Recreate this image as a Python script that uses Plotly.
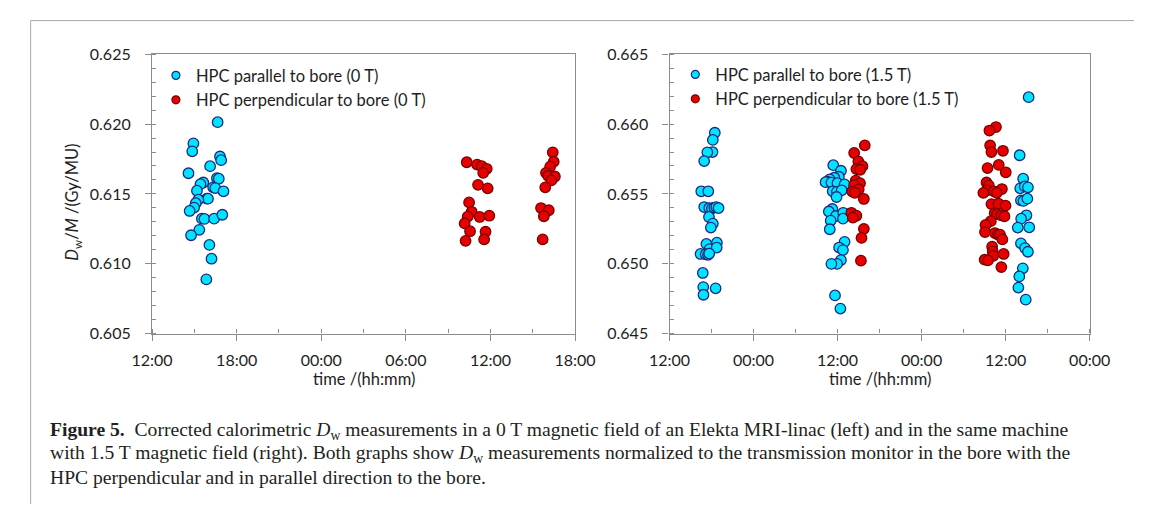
import plotly.graph_objects as go

W, H = 1155, 513

# ---------------- data ----------------
# Left panel, 0 T
left_par_day = "2017-01-10"
left_par_time = ["16:39", "14:56", "14:51", "16:49", "16:54", "16:07", "14:35", "16:36", "16:44", "15:38",
                 "15:26", "16:20", "16:29", "15:11", "17:04", "15:53", "15:58", "15:17", "15:06", "14:59",
                 "14:40", "15:32", "15:43", "16:24", "16:59", "15:21", "14:46", "16:04", "16:13", "15:51"]
left_par_val = [0.62014, 0.61862, 0.61805, 0.61768, 0.61742, 0.61699, 0.61648, 0.61613, 0.61609, 0.61582,
                0.61570, 0.61547, 0.61542, 0.61523, 0.61519, 0.61466, 0.61466, 0.61459, 0.61434, 0.61402,
                0.61378, 0.61323, 0.61321, 0.61323, 0.61351, 0.61243, 0.61204, 0.61135, 0.61036, 0.60888]

left_perp_day = "2017-01-11"
left_perp_time = ["10:19", "11:03", "11:23", "11:44", "11:29", "11:07", "11:48", "10:29", "10:40", "10:23",
                  "10:10", "11:14", "11:55", "10:33", "11:39", "10:14", "11:33",
                  "16:25", "16:29", "16:14", "15:56", "16:05", "16:34", "16:19", "15:53", "15:35",
                  "16:08", "15:47", "15:42"]
left_perp_val = [0.61727, 0.61710, 0.61699, 0.61680, 0.61651, 0.61565, 0.61540, 0.61439, 0.61372, 0.61337,
                 0.61289, 0.61335, 0.61344, 0.61233, 0.61229, 0.61164, 0.61174,
                 0.61798, 0.61731, 0.61696, 0.61651, 0.61630, 0.61625, 0.61597, 0.61547, 0.61399,
                 0.61383, 0.61340, 0.61174]

# Right panel, 1.5 T
right_par1_day = "2017-02-01"
right_par1_time = ["18:28", "18:11", "18:08", "17:24", "16:57", "16:32", "17:32", "16:57", "17:40", "18:03",
                   "18:24", "18:41", "19:00", "17:38", "18:11", "17:54", "17:16", "18:46", "17:43", "18:44",
                   "16:26", "17:10", "17:30", "17:40", "16:45", "16:49", "18:35", "16:51"]
right_par1_val = [0.65938, 0.65887, 0.65800, 0.65798, 0.65735, 0.65519, 0.65519, 0.65406, 0.65399, 0.65397,
                  0.65402, 0.65406, 0.65399, 0.65335, 0.65287, 0.65259, 0.65142, 0.65151, 0.65105, 0.65116,
                  0.65070, 0.65068, 0.65064, 0.65073, 0.64934, 0.64833, 0.64824, 0.64778]

right_par2_day = "2017-02-02"
right_par2_time = ["11:23", "12:29", "12:11", "11:32", "10:53", "10:32", "10:17", "11:07", "11:59", "13:00",
                   "11:18", "11:54", "12:35", "11:51", "11:15", "10:45", "11:46", "12:48", "12:46", "11:01",
                   "10:53", "13:00", "12:13", "12:46", "12:29", "11:56", "11:07", "11:38", "12:24"]
right_par2_val = [0.65706, 0.65666, 0.65623, 0.65616, 0.65604, 0.65588, 0.65584, 0.65581, 0.65577, 0.65568,
                  0.65519, 0.65515, 0.65526, 0.65478, 0.65392, 0.65374, 0.65342, 0.65365, 0.65323, 0.65309,
                  0.65247, 0.65157, 0.65116, 0.65098, 0.65026, 0.64999, 0.64999, 0.64773, 0.64679]

right_par3_day = "2017-02-03"
right_par3_time = ["15:17", "14:00", "14:30", "14:05", "14:44", "15:11", "14:11", "14:33", "15:06", "14:58",
                   "14:13", "13:44", "15:22", "14:11", "14:46", "15:11", "14:27", "13:57", "13:49", "14:52"]
right_par3_val = [0.66193, 0.65777, 0.65609, 0.65540, 0.65554, 0.65547, 0.65454, 0.65450, 0.65466, 0.65347,
                  0.65323, 0.65259, 0.65261, 0.65146, 0.65112, 0.65086, 0.64967, 0.64909, 0.64829, 0.64743]

right_perp2_day = "2017-02-02"
right_perp2_time = ["15:53", "14:22", "14:58", "15:33", "14:41", "15:14", "14:35", "15:12", "14:22", "15:01",
                    "14:06", "14:28", "15:45", "13:58", "14:41", "14:11", "15:45", "15:25", "15:20"]
right_perp2_val = [0.65848, 0.65793, 0.65733, 0.65699, 0.65678, 0.65673, 0.65595, 0.65577, 0.65563, 0.65533,
                   0.65517, 0.65508, 0.65464, 0.65365, 0.65344, 0.65330, 0.65250, 0.65185, 0.65022]

right_perp3_day = "2017-02-03"
right_perp3_time = ["10:37", "09:41", "09:47", "09:58", "11:37", "11:01", "09:25", "12:01", "09:16", "09:36",
                    "11:28", "09:20", "08:49", "10:20", "10:44", "09:58", "10:59", "11:59", "10:26", "10:47",
                    "11:23", "11:50", "09:53", "09:08", "09:03", "10:28", "10:53", "11:12", "11:32", "10:04",
                    "10:09", "10:14", "11:43", "09:00", "09:28", "11:23"]
right_perp3_val = [0.65979, 0.65954, 0.65848, 0.65800, 0.65809, 0.65708, 0.65685, 0.65655, 0.65582, 0.65561,
                   0.65535, 0.65526, 0.65508, 0.65519, 0.65508, 0.65427, 0.65430, 0.65416, 0.65363, 0.65356,
                   0.65347, 0.65340, 0.65305, 0.65278, 0.65227, 0.65220, 0.65209, 0.65209, 0.65174, 0.65123,
                   0.65088, 0.65057, 0.65070, 0.65029, 0.65024, 0.64976]

left_xrange = ["2017-01-10 12:00", "2017-01-11 18:00"]
right_xrange = ["2017-02-01 12:00", "2017-02-04 00:00"]
left_yrange = [0.605, 0.625]
right_yrange = [0.645, 0.665]
y_dtick = 0.005

legend_left = ["HPC parallel to bore (0 T)", "HPC perpendicular to bore (0 T)"]
legend_right = ["HPC parallel to bore (1.5 T)", "HPC perpendicular to bore (1.5 T)"]

caption_lines = [
    "<b>Figure 5.</b>  Corrected calorimetric <i>D</i><sub>w</sub> measurements in a 0 T magnetic field "
    "of an Elekta MRI-linac (left) and in the same machine",
    "with 1.5 T magnetic field (right). Both graphs show <i>D</i><sub>w</sub> measurements normalized to the "
    "transmission monitor in the bore with the",
    "HPC perpendicular and in parallel direction to the bore.",
]


def stamps(day, times):
    return [f"{day} {t}" for t in times]


# ---------------- styles ----------------
BLUE_FILL, BLUE_LINE = "#00E5FF", "#1B2A80"
RED_FILL, RED_LINE = "#E80000", "#7A0000"
FRAME = "#8C8C8C"
TXT = "#1E1E1E"
FONT = "Lato"
MS = 10.5


def px_x(p):
    return p / W


def px_y(p):
    return 1 - p / H


fig = go.Figure()

blue_marker = dict(color=BLUE_FILL, size=MS, line=dict(color=BLUE_LINE, width=1.3))
red_marker = dict(color=RED_FILL, size=MS, line=dict(color=RED_LINE, width=1.3))
blue_leg = dict(color=BLUE_FILL, size=8, line=dict(color=BLUE_LINE, width=1.2))
red_leg = dict(color=RED_FILL, size=8, line=dict(color=RED_LINE, width=1.2))

fig.add_trace(go.Scatter(x=stamps(left_par_day, left_par_time), y=left_par_val, mode="markers",
                         marker=blue_marker, name=legend_left[0], xaxis="x", yaxis="y", showlegend=False))
fig.add_trace(go.Scatter(x=stamps(left_perp_day, left_perp_time), y=left_perp_val, mode="markers",
                         marker=red_marker, name=legend_left[1], xaxis="x", yaxis="y", showlegend=False))

rp_x = (stamps(right_par1_day, right_par1_time) + stamps(right_par2_day, right_par2_time)
        + stamps(right_par3_day, right_par3_time))
rp_y = right_par1_val + right_par2_val + right_par3_val
rq_x = stamps(right_perp2_day, right_perp2_time) + stamps(right_perp3_day, right_perp3_time)
rq_y = right_perp2_val + right_perp3_val

fig.add_trace(go.Scatter(x=rp_x, y=rp_y, mode="markers", marker=blue_marker, name=legend_right[0],
                         xaxis="x2", yaxis="y2", showlegend=False))
fig.add_trace(go.Scatter(x=rq_x, y=rq_y, mode="markers", marker=red_marker, name=legend_right[1],
                         xaxis="x2", yaxis="y2", showlegend=False))

# legend entries (smaller symbols, as in the reference)
for name, mk, ax, ay, lg in [(legend_left[0], blue_leg, "x", "y", "legend"),
                             (legend_left[1], red_leg, "x", "y", "legend"),
                             (legend_right[0], blue_leg, "x2", "y2", "legend2"),
                             (legend_right[1], red_leg, "x2", "y2", "legend2")]:
    fig.add_trace(go.Scatter(x=[None], y=[None], mode="markers", marker=mk, name=name,
                             xaxis=ax, yaxis=ay, legend=lg, showlegend=True))

ydom = [px_y(336), px_y(46)]
common_ax = dict(showline=True, linecolor=FRAME, linewidth=1.3, mirror=True, showgrid=False, zeroline=False,
                 ticks="outside", ticklen=6, tickcolor=FRAME, tickwidth=1.3,
                 tickfont=dict(family=FONT, size=16, color=TXT))

fig.update_layout(
    width=W, height=H,
    margin=dict(l=0, r=0, t=0, b=0),
    paper_bgcolor="white", plot_bgcolor="white",
    font=dict(family=FONT, color=TXT),
    xaxis=dict(domain=[px_x(136), px_x(575)], anchor="y", type="date", range=left_xrange,
               tick0="2017-01-10 12:00", dtick=6 * 3600000, tickformat="%H:%M", ticklabelstandoff=6,
               minor=dict(dtick=3 * 3600000, ticks="inside", ticklen=4, tickcolor=FRAME), **common_ax),
    yaxis=dict(domain=ydom, anchor="x", range=left_yrange, dtick=y_dtick, tickformat=".3f",
               ticklabelstandoff=11,
               minor=dict(dtick=0.001, ticks="inside", ticklen=4, tickcolor=FRAME), **common_ax),
    xaxis2=dict(domain=[px_x(673), px_x(1109)], anchor="y2", type="date", range=right_xrange,
                tick0="2017-02-01 12:00", dtick=12 * 3600000, tickformat="%H:%M", ticklabelstandoff=6,
                minor=dict(dtick=6 * 3600000, ticks="inside", ticklen=4, tickcolor=FRAME), **common_ax),
    yaxis2=dict(domain=ydom, anchor="x2", range=right_yrange, dtick=y_dtick, tickformat=".3f",
                ticklabelstandoff=11,
                minor=dict(dtick=0.001, ticks="inside", ticklen=4, tickcolor=FRAME), **common_ax),
    legend=dict(x=px_x(140), y=px_y(50), xanchor="left", yanchor="top", bgcolor="rgba(0,0,0,0)",
                font=dict(family=FONT, size=16.5, color=TXT), tracegroupgap=0),
    legend2=dict(x=px_x(679), y=px_y(49), xanchor="left", yanchor="top", bgcolor="rgba(0,0,0,0)",
                 font=dict(family=FONT, size=16.5, color=TXT), tracegroupgap=0),
    showlegend=True,
)

# axis titles
fig.add_annotation(text="<i>D</i><sub>w</sub>/<i>M</i> /(Gy/MU)", xref="paper", yref="paper",
                   x=px_x(54), y=px_y(200), textangle=-90, showarrow=False,
                   font=dict(family=FONT, size=16.5, color=TXT), xanchor="center", yanchor="middle")
for cx in (355.5, 891):
    fig.add_annotation(text="time /(hh:mm)", xref="paper", yref="paper", x=px_x(cx), y=px_y(383),
                       showarrow=False, font=dict(family=FONT, size=16.5, color=TXT),
                       xanchor="center", yanchor="middle")

# caption, one annotation per line
for line, cy in zip(caption_lines, (437, 461, 485)):
    fig.add_annotation(text=line, xref="paper", yref="paper", x=px_x(28), y=px_y(cy), showarrow=False,
                       align="left", xanchor="left", yanchor="middle",
                       font=dict(family="Liberation Serif", size=19.6, color="#231F20"))

# frame lines of the figure box
fig.add_shape(type="line", xref="paper", yref="paper", x0=px_x(10), x1=1, y0=px_y(11), y1=px_y(11),
              line=dict(color="#A6A6A6", width=1))
fig.add_shape(type="line", xref="paper", yref="paper", x0=px_x(10), x1=px_x(10), y0=0, y1=px_y(11),
              line=dict(color="#A6A6A6", width=1))

fig.write_html("out.html", config={"displayModeBar": False},
               post_script="document.body.style.margin='0';document.body.style.overflow='hidden';")
